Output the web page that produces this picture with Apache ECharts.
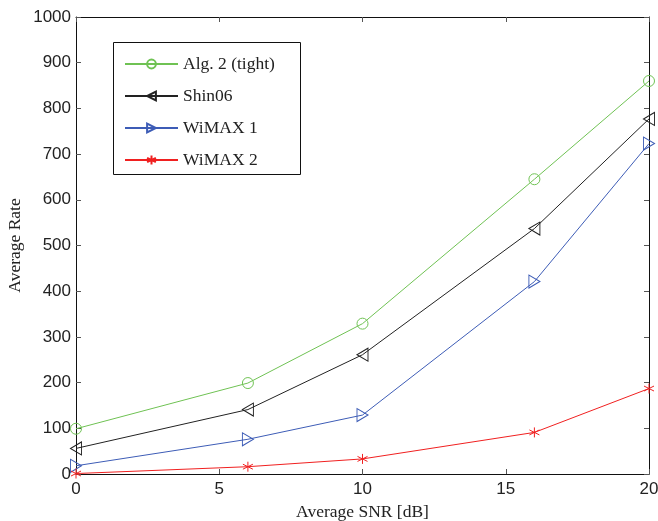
<!DOCTYPE html>
<html><head><meta charset="utf-8">
<script src="https://cdn.jsdelivr.net/npm/echarts@6/dist/echarts.min.js"></script>
<style>html,body{margin:0;padding:0;background:#fff}#c{width:658px;height:521px}</style>
</head><body><div id="c"></div>
<script>
const snr = [0, 6, 10, 16, 20];
const alg2 = [99, 199, 329, 645, 860];
const shin06 = [56, 141, 261, 537, 777];
const wimax1 = [18, 76, 129, 421, 723];
const wimax2 = [1, 16, 33, 91, 187];
const seriesNames = ['Alg. 2 (tight)', 'Shin06', 'WiMAX 1', 'WiMAX 2'];
const xTicks = [0, 5, 10, 15, 20];
const yTicks = [0, 100, 200, 300, 400, 500, 600, 700, 800, 900, 1000];

const colors = ['#6fc253', '#222222', '#3d5cb6', '#f02020'];
const symbols = [
  'circle',
  'path://M1,-1L1,1L-1,0Z',
  'path://M-1,-1L-1,1L1,0Z',
  'path://M0,-1L0,1M-0.87,-0.5L0.87,0.5M-0.87,0.5L0.87,-0.5'
];
const sizes = [11, [11, 13], [11, 13], 10];
const datas = [alg2, shin06, wimax1, wimax2];

const chart = echarts.init(document.getElementById('c'));
const tickFont = {fontFamily: 'Liberation Sans, Arial, sans-serif', fontSize: 17, color: '#222'};
const serif = 'Liberation Serif, Times New Roman, serif';
const axisLine = {show: true, onZero: false, lineStyle: {color: '#111', width: 1}};
const axisTick = {show: true, inside: true, length: 5, lineStyle: {color: '#555'}};

chart.setOption({
  animation: false,
  grid: {left: 76, top: 17, right: 9, bottom: 47, containLabel: false, outerBoundsMode: 'none'},
  xAxis: [
    {type: 'value', min: 0, max: 20, interval: 5, axisLine, axisTick, splitLine: {show: false},
     axisLabel: Object.assign({margin: 7, formatter: v => String(v)}, tickFont),
     name: 'Average SNR [dB]', nameLocation: 'middle', nameGap: 29, nameMoveOverlap: false,
     nameTextStyle: {fontFamily: serif, fontSize: 17.5, color: '#222'}},
    {type: 'value', min: 0, max: 20, interval: 5, position: 'top', axisLine, axisTick,
     axisLabel: {show: false}, splitLine: {show: false}}
  ],
  yAxis: [
    {type: 'value', min: 0, max: 1000, interval: 100, axisLine, axisTick, splitLine: {show: false},
     axisLabel: Object.assign({margin: 5, formatter: v => String(v)}, tickFont),
     name: 'Average Rate', nameLocation: 'middle', nameGap: 52, nameMoveOverlap: false,
     nameTextStyle: {fontFamily: serif, fontSize: 17.5, color: '#222'}},
    {type: 'value', min: 0, max: 1000, interval: 100, position: 'right', axisLine, axisTick,
     axisLabel: {show: false}, splitLine: {show: false}}
  ],
  legend: {
    orient: 'vertical', left: 119, top: 50, itemWidth: 53, itemHeight: 11, itemGap: 14,
    data: seriesNames,
    textStyle: {fontFamily: serif, fontSize: 17.5, color: '#222'}
  },
  graphic: [{type: 'rect', shape: {x: 113.5, y: 42.5, width: 187, height: 132},
    style: {fill: 'none', stroke: '#111', lineWidth: 1}, z: 100}],
  series: seriesNames.map((n, i) => ({
    name: n, type: 'line',
    data: snr.map((x, j) => [x, datas[i][j]]),
    symbol: symbols[i], symbolSize: sizes[i], showAllSymbol: true,
    lineStyle: {color: colors[i], width: 1},
    itemStyle: {color: 'rgba(0,0,0,0)', borderColor: colors[i], borderWidth: 1},
    color: colors[i]
  }))
});
</script></body></html>
